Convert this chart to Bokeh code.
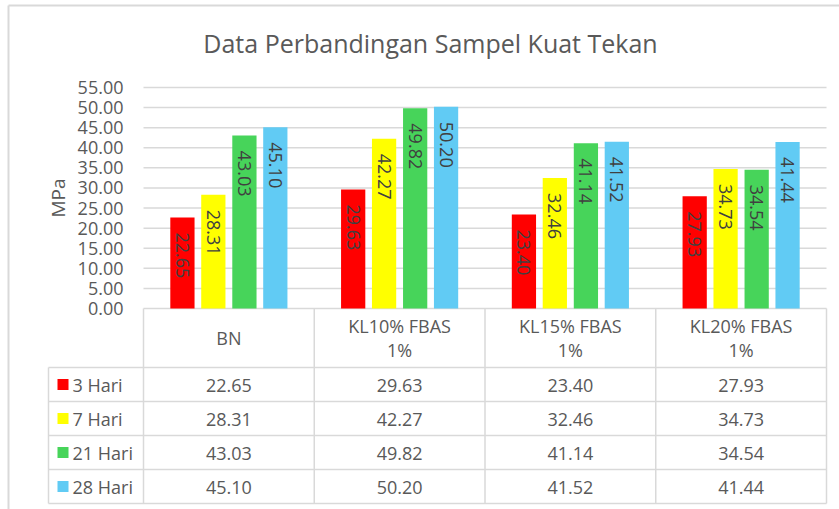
import math
from bokeh.plotting import figure
from bokeh.models import Range1d
from bokeh.core.properties import value
from bokeh.embed import file_html
from bokeh.resources import INLINE

# ---------------- data ----------------
title = "Data Perbandingan Sampel Kuat Tekan"
categories = ["BN", "KL10% FBAS\n1%", "KL15% FBAS\n1%", "KL20% FBAS\n1%"]
series = ["3 Hari", "7 Hari", "21 Hari", "28 Hari"]
hari3 = [22.65, 29.63, 23.40, 27.93]
hari7 = [28.31, 42.27, 32.46, 34.73]
hari21 = [43.03, 49.82, 41.14, 34.54]
hari28 = [45.10, 50.20, 41.52, 41.44]
y_ticks = [0, 5, 10, 15, 20, 25, 30, 35, 40, 45, 50, 55]
y_label = "MPa"

all_series = [hari3, hari7, hari21, hari28]
colors = ["#FF0000", "#FFFF00", "#47D45A", "#61CBF4"]

# ---------------- layout ----------------
W, H = 839, 509
X0 = 143.0          # left of plot area (canvas px)
GP = 170.75         # px per category group
Y0 = 308.0          # y of value 0 (canvas px)
KY = 221.0 / 55.0   # px per MPa
HEADER_H = 59.0
ROW_H = 34.0
LEG_LEFT = 48.0     # left of legend column (canvas px)
BORDER_X = 8.0
BORDER_Y = 5.0

def px_x(X):
    return (X - X0) / GP

def px_y(Y):
    return (Y0 - Y) / KY

FONT = value("Open Sans")
GRID = "#D9D9D9"
TXT = "#595959"

p = figure(width=W, height=H, output_backend="svg", toolbar_location=None,
           x_range=Range1d(px_x(0), px_x(W)),
           y_range=Range1d(px_y(H), px_y(0)),
           min_border=0)
p.xaxis.visible = False
p.yaxis.visible = False
p.xgrid.visible = False
p.ygrid.visible = False
p.outline_line_color = None
p.background_fill_color = "white"
p.border_fill_color = "white"

n = len(categories)

# outer chart border (left and top edges)
p.segment(x0=[px_x(BORDER_X), px_x(BORDER_X)], x1=[px_x(BORDER_X), px_x(W)],
          y0=[px_y(H), px_y(BORDER_Y)], y1=[px_y(BORDER_Y), px_y(BORDER_Y)],
          line_color=GRID, line_width=2)

# horizontal gridlines
p.segment(x0=[0] * len(y_ticks), x1=[n] * len(y_ticks), y0=y_ticks, y1=y_ticks,
          line_color=GRID, line_width=1.5)

# tick labels
p.text(x=[px_x(123)] * len(y_ticks), y=y_ticks, text=[f"{t:.2f}" for t in y_ticks],
       text_align="right", text_baseline="middle", text_color=TXT,
       text_font=FONT, text_font_size="18px")

# axis title
p.text(x=[px_x(57)], y=[(y_ticks[0] + y_ticks[-1]) / 2], text=[y_label], angle=math.pi / 2,
       text_align="center", text_baseline="middle", text_color=TXT,
       text_font=FONT, text_font_size="19px")

# chart title
p.text(x=[px_x(430)], y=[px_y(42)], text=[title],
       text_align="center", text_baseline="middle", text_color=TXT,
       text_font=FONT, text_font_size="25px")

# bars
offsets = [-0.272, -0.091, 0.091, 0.272]
bw = 0.142
for s, vals in enumerate(all_series):
    xs = [i + 0.5 + offsets[s] for i in range(n)]
    p.vbar(x=xs, top=vals, bottom=0, width=bw, fill_color=colors[s], line_color=None)
    p.text(x=xs, y=vals, text=[f"{v:.2f}" for v in vals], angle=-math.pi / 2,
           text_align="left", text_baseline="middle", text_color="#404040",
           text_font=FONT, text_font_size="18px", y_offset=15)

# ---------------- data table ----------------
y_head_bot = -HEADER_H / KY
row_lines = [y_head_bot - ROW_H / KY * r for r in range(len(series) + 1)]
y_bottom = row_lines[-1]
leg_x = px_x(LEG_LEFT)

# vertical lines of the category columns
p.segment(x0=list(range(n + 1)), x1=list(range(n + 1)), y0=[0] * (n + 1),
          y1=[y_bottom] * (n + 1), line_color=GRID, line_width=1.5)
# legend column left edge
p.segment(x0=[leg_x], x1=[leg_x], y0=[y_head_bot], y1=[y_bottom],
          line_color=GRID, line_width=1.5)
# horizontal row lines
p.segment(x0=[leg_x] * len(row_lines), x1=[n] * len(row_lines), y0=row_lines,
          y1=row_lines, line_color=GRID, line_width=1.5)

# header labels
p.text(x=[i + 0.5 for i in range(n)], y=[y_head_bot / 2] * n, text=categories,
       text_align="center", text_baseline="middle", text_color=TXT,
       text_font=FONT, text_font_size="18px", text_line_height=1.0)

# rows
for s, vals in enumerate(all_series):
    yc = (row_lines[s] + row_lines[s + 1]) / 2
    p.scatter(x=[px_x(62.5)], y=[yc], marker="square", size=11,
              fill_color=colors[s], line_color=None)
    p.text(x=[px_x(72)], y=[yc], text=[series[s]], text_align="left",
           text_baseline="middle", text_color=TXT, text_font=FONT,
           text_font_size="18px")
    p.text(x=[i + 0.5 for i in range(n)], y=[yc - 1.0 / KY] * n, text=[f"{v:.2f}" for v in vals],
           text_align="center", text_baseline="middle", text_color=TXT,
           text_font=FONT, text_font_size="18px")

open("out.html", "w").write(file_html(p, INLINE))
